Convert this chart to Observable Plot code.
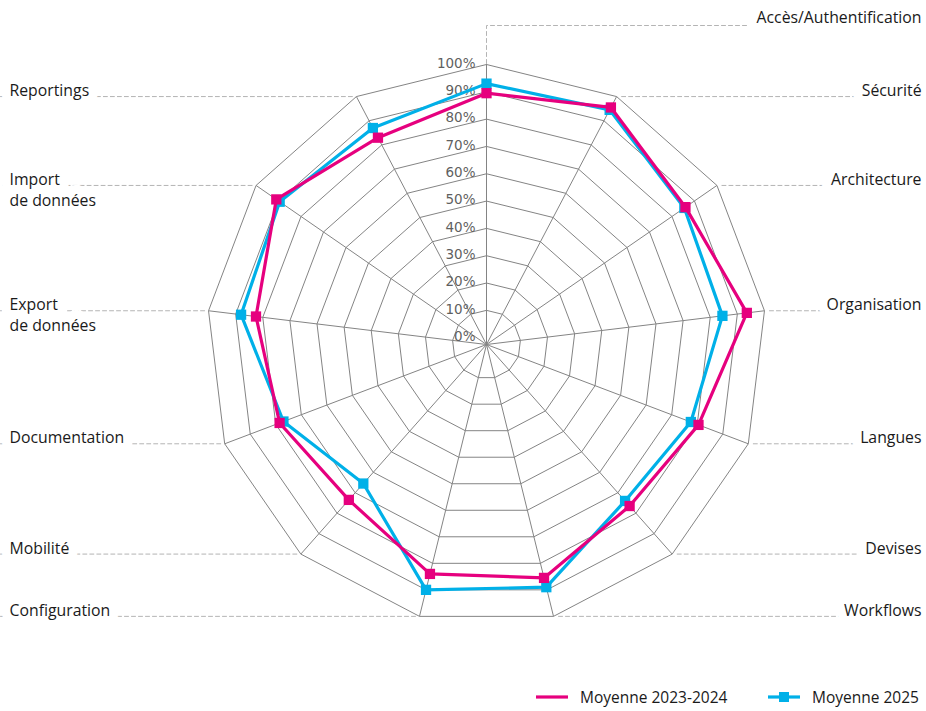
<!DOCTYPE html>
<html>
<head>
<meta charset="utf-8">
<script src="https://cdn.jsdelivr.net/npm/d3@7"></script>
<script src="https://cdn.jsdelivr.net/npm/@observablehq/plot@0.6"></script>
<style>
  html, body { margin: 0; padding: 0; background: #fff; }
  #wrap { position: relative; width: 926px; height: 711px; }
  #legend { position: absolute; left: 0; top: 686px; width: 926px; height: 22px;
            font-family: "Open Sans", sans-serif; font-size: 15.5px; color: #1a1a1a; }
  .item { position: absolute; top: 0; height: 22px; display: flex; align-items: center; }
  .item svg { margin-right: 12px; }
</style>
</head>
<body>
<div id="wrap">
  <div id="chart"></div>
  <div id="legend"></div>
</div>
<script>
// ---- Data ----
const categories = ["Accès/Authentification", "Sécurité", "Architecture", "Organisation", "Langues",
  "Devises", "Workflows", "Configuration", "Mobilité", "Documentation",
  "Export\nde données", "Import\nde données", "Reportings"];
const moyenne2023_2024 = [89.5, 95.5, 86, 93.5, 80.5, 76.5, 85.5, 84, 73.5, 78.5, 82.5, 91, 83];
const moyenne2025      = [93, 94.5, 85.5, 84.5, 77.5, 74, 89, 90, 65.5, 77, 88, 89.5, 87];
const tickValues = [0, 10, 20, 30, 40, 50, 60, 70, 80, 90, 100];
const tickLabels = ["0%", "10%", "20%", "30%", "40%", "50%", "60%", "70%", "80%", "90%", "100%"];
const seriesNames = ["Moyenne 2023-2024", "Moyenne 2025"];
const seriesColors = ["#e6007e", "#00b0e8"];

// ---- Layout ----
const W = 926, H = 680, CX = 486, CY = 344, R = 280;
const n = categories.length;
const rad = d3.scaleLinear().domain([-2.5, 100]).range([0, R]);
const pt = (i, v) => {
  const a = (i % n) * 2 * Math.PI / n, rr = rad(v);
  return [rr * Math.sin(a), rr * Math.cos(a)];
};

// rings
const rings = [];
tickValues.filter(t => t > 0).forEach(t => {
  for (let i = 0; i <= n; i++) { const [x, y] = pt(i, t); rings.push({level: t, x, y}); }
});
// spokes
const spokes = categories.map((c, i) => { const [x2, y2] = pt(i, 100); return {x1: 0, y1: 0, x2, y2}; });

// leaders + labels
const xRight = W - CX, xLeft = -CX, yTopLabel = CY - 25;
const leaders = [], labelsRight = [], labelsLeft = [];
categories.forEach((c, i) => {
  const [vx, vy] = pt(i, 100);
  if (i === 0) {
    leaders.push({k: i, x: vx, y: vy + 1}, {k: i, x: 0, y: yTopLabel}, {k: i, x: xRight, y: yTopLabel});
    labelsRight.push({text: c, x: 921 - CX, y: yTopLabel + 2});
  } else if (vx > 0) {
    leaders.push({k: i, x: vx + 5, y: vy}, {k: i, x: xRight, y: vy});
    labelsRight.push({text: c, x: 921 - CX, y: vy});
  } else {
    leaders.push({k: i, x: vx - 4, y: vy}, {k: i, x: xLeft, y: vy});
    labelsLeft.push({text: c, x: 9 - CX, y: vy});
  }
});

// series
const seriesData = [moyenne2025, moyenne2023_2024].map((vals, s) => {
  const color = s === 0 ? seriesColors[1] : seriesColors[0];
  const line = [];
  for (let i = 0; i <= n; i++) { const [x, y] = pt(i, vals[i % n]); line.push({x, y}); }
  return {color, line, dots: line.slice(0, n)};
});

const ticksData = tickValues.map((t, j) => ({x: -11, y: rad(t), label: tickLabels[j]}));

const labelStyle = {x: "x", y: "y", text: "text", lineAnchor: "top", dy: -15,
  fontFamily: "Open Sans", fontSize: 15.8, fill: "#1a1a1a", lineHeight: 1.3,
  stroke: "white", strokeWidth: 18, paintOrder: "stroke"};

const marks = [
  Plot.line(rings, {x: "x", y: "y", z: "level", stroke: "#848484", strokeWidth: 1}),
  Plot.link(spokes, {x1: "x1", y1: "y1", x2: "x2", y2: "y2", stroke: "#848484", strokeWidth: 1}),
  Plot.line(leaders, {x: "x", y: "y", z: "k", stroke: "#b4b4b4", strokeWidth: 1, strokeDasharray: "4,3"}),
  Plot.text(ticksData, {x: "x", y: "y", text: "label", textAnchor: "end", dy: -1,
    fontFamily: "DejaVu Sans", fontSize: 13.5, fill: "#5f5f5f"}),
  Plot.text(labelsRight, {...labelStyle, textAnchor: "end"}),
  Plot.text(labelsLeft, {...labelStyle, textAnchor: "start"})
];
seriesData.forEach(s => {
  marks.push(Plot.line(s.line, {x: "x", y: "y", stroke: s.color, strokeWidth: 3.2}));
  marks.push(Plot.dot(s.dots, {x: "x", y: "y", symbol: "square", r: 5.8, fill: s.color}));
});

const chart = Plot.plot({
  width: W, height: H, margin: 0,
  x: {domain: [-CX, W - CX], axis: null},
  y: {domain: [-(H - CY), CY], axis: null},
  style: {background: "white"},
  marks
});
document.getElementById("chart").appendChild(chart);

// Legend
const leg = document.getElementById("legend");
[[536, 0, false], [768, 1, true]].forEach(([left, s, marker]) => {
  const it = document.createElement("div");
  it.className = "item"; it.style.left = left + "px";
  it.innerHTML = `<svg width="32" height="12"><line x1="0" x2="32" y1="6" y2="6" stroke="${seriesColors[s]}" stroke-width="3.2"/>` +
    (marker ? `<rect x="11" y="1" width="10" height="10" fill="${seriesColors[s]}"/>` : "") +
    `</svg><span>${seriesNames[s]}</span>`;
  leg.appendChild(it);
});
</script>
</body>
</html>
